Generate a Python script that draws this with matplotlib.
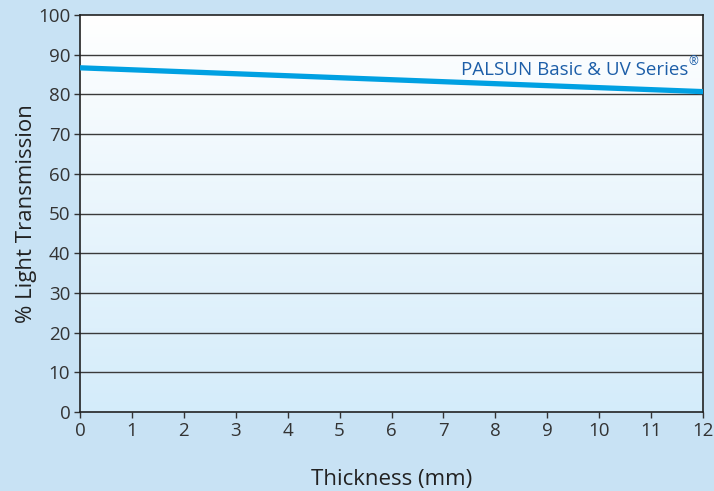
import matplotlib
matplotlib.use("Agg")
import matplotlib.pyplot as plt
import numpy as np
from matplotlib.colors import LinearSegmentedColormap

plt.rcParams['font.family'] = ['Open Sans', 'DejaVu Sans']

thickness = [0, 12]
transmission = [86.7, 80.7]
x_ticks = list(range(0, 13))
y_ticks = list(range(0, 101, 10))
series_label = "PALSUN Basic & UV Series"
reg_mark = "\u00ae"

fig = plt.figure(figsize=(7.14, 4.91), dpi=100, facecolor='#c8e2f4')
ax = fig.add_axes([80/714, 79/491, 623/714, 397/491])
ax.set_xlim(0, 12)
ax.set_ylim(0, 100)

cmap = LinearSegmentedColormap.from_list('bg', ['#ffffff', '#d4ecfa'])
grad = np.linspace(0, 1, 256).reshape(-1, 1)
ax.imshow(grad, aspect='auto', cmap=cmap, extent=[0, 12, 0, 100], origin='upper', zorder=0)
ax.set_xlim(0, 12)
ax.set_ylim(0, 100)

for y in y_ticks[1:-1]:
    ax.axhline(y, color='#3a3a3a', lw=1.0, zorder=1)

ax.plot(thickness, transmission, color='#00a0e2', lw=3.8, solid_capstyle='butt', zorder=3)
ax.annotate(reg_mark, xy=(11.9, 84.3), color='#1d5ea8', fontsize=8.5, ha='right', va='bottom', zorder=4,
            xytext=(0, 7), textcoords='offset points')
ax.annotate(series_label, xy=(11.9, 84.0), color='#1d5ea8', fontsize=13.5, ha='right', va='bottom', zorder=4,
            xytext=(-6.5, 0), textcoords='offset points')

ax.set_xticks(x_ticks)
ax.set_yticks(y_ticks)
ax.tick_params(axis='both', colors='#333333', labelsize=13.5, length=4, width=1, direction='out', pad=3)
for s in ax.spines.values():
    s.set_color('#222222')
    s.set_linewidth(1.2)

ax.set_xlabel('Thickness (mm)', fontsize=16, color='#222222', labelpad=21)
ax.set_ylabel('% Light Transmission', fontsize=16, color='#222222', labelpad=1)

fig.savefig('out.png', dpi=100, facecolor=fig.get_facecolor())
